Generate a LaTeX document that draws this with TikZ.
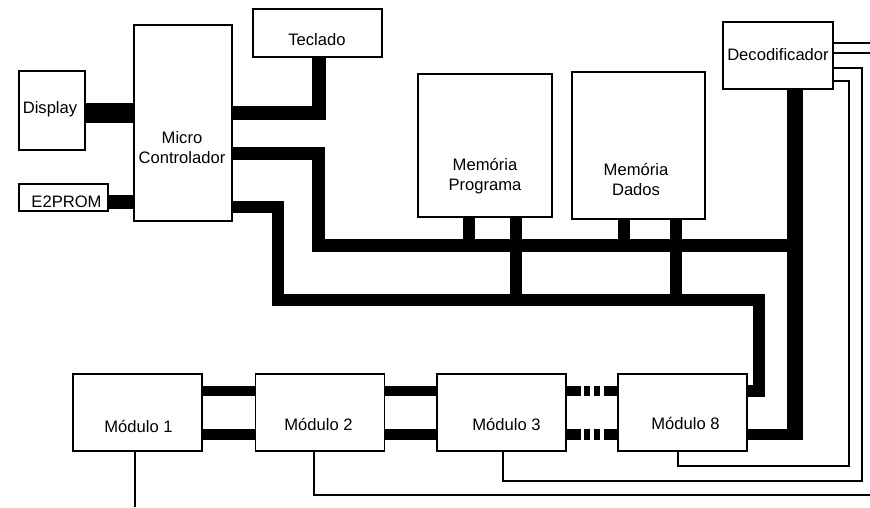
\documentclass[tikz,border=0pt]{standalone}
\usepackage{fontspec}
\setmainfont{Liberation Sans}
\usetikzlibrary{positioning}
\tikzset{
  blk/.style={draw, line width=1.5pt, inner sep=0pt},
  txt/.style={anchor=base, inner sep=0pt},
  bus/.style={line width=#1, line cap=butt, line join=miter},
  wire/.style={line width=2pt, line join=miter},
  gapbus/.style={dash pattern=on 14pt off 3pt on 6pt off 4pt on 6pt off 4pt on 20pt},
}

\begin{document}
\begin{tikzpicture}[x=1pt, y=-1pt, font=\fontsize{16.6}{20}\selectfont]
\useasboundingbox (0,0) rectangle (870,507);
% ---------- blocks ----------
\node[blk, minimum width=66pt,  minimum height=79pt]  (disp)  at (52,110.5) {};
\node[blk, minimum width=98pt,  minimum height=196pt] (micro) at (183,123) {};
\node[blk, minimum width=129pt, minimum height=48pt]  (tecl)  at (317.5,33) {};
\node[blk, minimum width=89pt,  minimum height=27pt]  (e2p)   at (63.5,197.5) {};
\node[blk, minimum width=134pt, minimum height=143pt] (memp)  at (485,145.5) {};
\node[blk, minimum width=133pt, minimum height=147pt] (memd)  at (638.5,145.5) {};
\node[blk, minimum width=110pt, minimum height=67pt]  (deco)  at (778,55.5) {};
\foreach \m/\xx in {mod1/137.5, mod2/320, mod3/501.5, mod8/682.5}
  \node[blk, minimum width=129pt, minimum height=77pt] (\m) at (\xx,412.5) {};
% ---------- texts ----------
\node[txt] (disp-t)  at (50,113.5)  {Display};
\node[txt] (tecl-t)  at (317,45)    {Teclado};
\node[txt] (e2p-t)   at (66.5,207.5) {E2PROM};
\node[txt] (deco-t)  at (778,60.7)  {Decodificador};
\node[align=center, inner sep=0pt] (micro-t) at (182,148)   {Micro\\Controlador};
\node[align=center, inner sep=0pt] (memp-t)  at (485,176.4) {Mem\'oria\\Programa};
\node[align=center, inner sep=0pt] (memd-t)  at (636,179.7) {Mem\'oria\\Dados};
\node[txt] (mod1-t) at (138.5,432.5) {M\'odulo 1};
\node[txt] (mod2-t) at (318.5,430)   {M\'odulo 2};
\node[txt] (mod3-t) at (506.5,430.5) {M\'odulo 3};
\node[txt] (mod8-t) at (685.5,429.5) {M\'odulo 8};
% ---------- buses ----------
\draw[bus=20pt] (disp.east |- 0,113) -- (micro.west |- 0,113);
\draw[bus=14pt] (e2p.east |- 0,201.5) -- (micro.west |- 0,201.5);
\draw[bus=14pt] (micro.east |- 0,112.5) -- (319,112.5) -- (tecl.south -| 319,0);
% upper bus
\draw[bus=13pt] (micro.east |- 0,153) -- (318.5,153) -- (318.5,245.5) -- (795,245.5);
% lower bus
\draw[bus=12pt] (micro.east |- 0,206.5) -- (278,206.5) -- (278,300) -- (759,300)
  -- (759,391) -- (mod8.east |- 0,391);
% decoder bus
\draw[bus=16pt] (deco.south -| 795,0) -- (795,440);
\draw[bus=11pt] (mod8.east |- 0,434.5) -- (803,434.5);
% memory legs
\foreach \xx/\yy in {468.5/245.5, 515.5/300}
  \draw[bus=12pt] (memp.south -| \xx,0) -- (\xx,\yy);
\foreach \xx/\yy in {623.5/245.5, 675.5/300}
  \draw[bus=12pt] (memd.south -| \xx,0) -- (\xx,\yy);
% module chain
\foreach \a/\b in {mod1/mod2, mod2/mod3}{
  \draw[bus=10pt] (\a.east |- 0,391) -- (\b.west |- 0,391);
  \draw[bus=11pt] (\a.east |- 0,434.5) -- (\b.west |- 0,434.5);
}
\draw[bus=10pt, gapbus] (mod3.east |- 0,391) -- (mod8.west |- 0,391);
\draw[bus=11pt, gapbus] (mod3.east |- 0,434.5) -- (mod8.west |- 0,434.5);
% ---------- select lines ----------
\coordinate (outA) at (870,43);
\coordinate (outB) at (870,53);
\coordinate (outC) at (870,495);
\coordinate (outD) at (135,507);
\draw[wire] (deco.east |- outA) -- (outA);
\draw[wire] (deco.east |- outB) -- (outB);
\draw[wire] (mod1.south -| outD) -- (outD);
\draw[wire] (mod2.south -| 314,0) -- (314,495) -- (outC);
\draw[wire] (mod3.south -| 503,0) -- (503,481) -- (862,481) -- (862,68) -- (deco.east |- 0,68);
\draw[wire] (mod8.south -| 678,0) -- (678,466) -- (849,466) -- (849,81) -- (deco.east |- 0,81);
\end{tikzpicture}
\end{document}
